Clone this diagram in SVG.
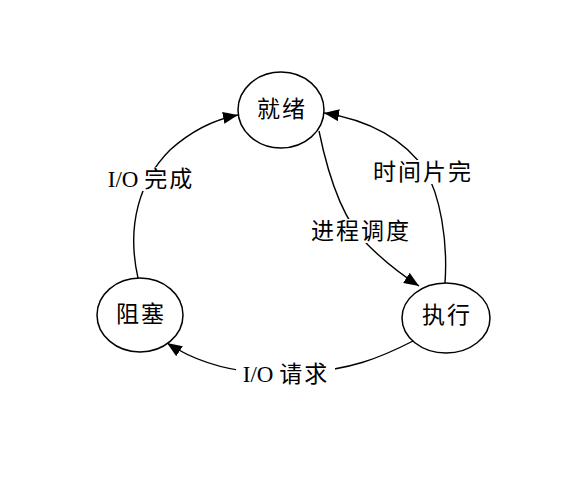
<svg xmlns="http://www.w3.org/2000/svg" width="586" height="483" viewBox="0 0 586 483">
<style>
.node{fill:#fff;stroke:#000;stroke-width:1.5}
.edge{fill:none;stroke:#000;stroke-width:1.4}
.bg{fill:#fff}
text{font-family:"Liberation Serif","Noto Sans CJK SC",serif;font-size:23px;fill:#000;text-anchor:middle;dominant-baseline:central}
.cjk{letter-spacing:2px}
</style>
<defs>
<marker id="arr" markerUnits="userSpaceOnUse" markerWidth="16" markerHeight="12" refX="15" refY="6" orient="auto">
<path d="M0,0 L15,6 L0,12 Z" fill="#000"/>
</marker>
</defs>
<rect width="586" height="483" fill="#fff"/>
<g id="connectors">
<path class="edge" d="M138,278 C126,225 140,180 170,150 C190,132 212,120 238,115" marker-end="url(#arr)"/>
<path class="edge" d="M445,283 C448,240 440,195 425,170 C405,140 370,120 324,113" marker-end="url(#arr)"/>
<path class="edge" d="M319,131 C328,175 342,220 368,245 C385,262 402,275 419,286" marker-end="url(#arr)"/>
<path class="edge" d="M413,341 C380,358 350,370 300,373 C250,376 205,368 167,343" marker-end="url(#arr)"/>
<rect class="bg" x="101" y="167" width="100" height="24"/>
<text x="151" y="179">I/O <tspan class="cjk">完成</tspan></text>
<rect class="bg" x="370" y="160" width="104" height="24"/>
<text class="cjk" x="423" y="172">时间片完</text>
<rect class="bg" x="307" y="219" width="106" height="24"/>
<text class="cjk" x="361" y="231">进程调度</text>
<rect class="bg" x="236" y="362" width="99" height="24"/>
<text x="286" y="374">I/O <tspan class="cjk">请求</tspan></text>
</g>
<g id="ready">
<ellipse class="node" cx="281" cy="110" rx="43" ry="38"/>
<text class="cjk" x="282" y="109">就绪</text>
</g>
<g id="running">
<ellipse class="node" cx="446" cy="318" rx="44" ry="35"/>
<text class="cjk" x="447" y="315">执行</text>
</g>
<g id="blocked">
<ellipse class="node" cx="140" cy="315" rx="43" ry="37"/>
<text class="cjk" x="141" y="314">阻塞</text>
</g>
</svg>
